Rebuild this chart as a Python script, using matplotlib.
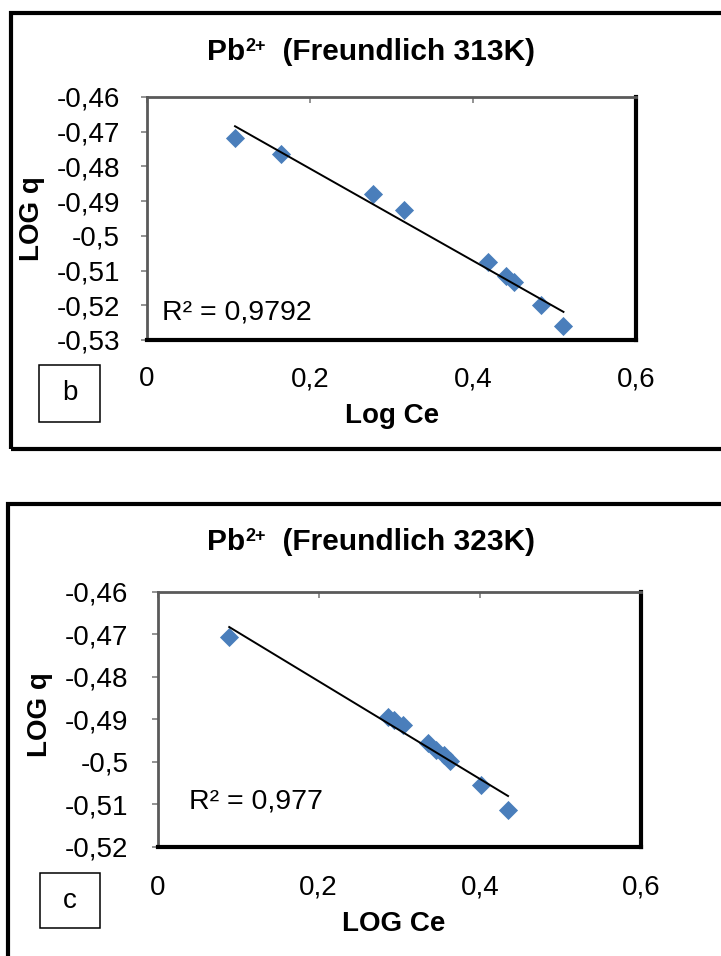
import numpy as np
import matplotlib
matplotlib.use('Agg')
import matplotlib.pyplot as plt
from matplotlib.patches import Rectangle
from matplotlib.ticker import FuncFormatter

plt.rcParams['font.family'] = ['Liberation Sans', 'DejaVu Sans']

# ---------------- data ----------------
# panel b : Pb2+ Freundlich 313K
x_313 = [0.108, 0.165, 0.277, 0.315, 0.418, 0.440, 0.450, 0.484, 0.511]
y_313 = [-0.4719, -0.4764, -0.4880, -0.4926, -0.5075, -0.5116, -0.5134, -0.5199, -0.5259]
# panel c : Pb2+ Freundlich 323K
x_323 = [0.089, 0.286, 0.293, 0.305, 0.336, 0.346, 0.355, 0.363, 0.402, 0.435]
y_323 = [-0.4706, -0.4893, -0.4902, -0.4914, -0.4956, -0.4972, -0.4983, -0.4997, -0.5054, -0.5113]

xticks = [0, 0.2, 0.4, 0.6]
yticks_313 = [-0.46, -0.47, -0.48, -0.49, -0.50, -0.51, -0.52, -0.53]
yticks_323 = [-0.46, -0.47, -0.48, -0.49, -0.50, -0.51, -0.52]

title_base = 'Pb'
title_sup = '2+'
title_rest = ['  (Freundlich 313K)', '  (Freundlich 323K)']
xlabels = ['Log Ce', 'LOG Ce']
ylabel = 'LOG q'
r2_texts = ['R² = 0,9792', 'R² = 0,977']
panel_letters = ['b', 'c']

W, H = 721, 956
fig = plt.figure(figsize=(W / 100, H / 100), dpi=100)
renderer = fig.canvas.get_renderer()


def fx(px):
    return px / W


def fy(py):
    return 1 - py / H


def rect(l, t, r, b):
    return [l / W, 1 - b / H, (r - l) / W, (b - t) / H]


fmt = FuncFormatter(lambda v, p: f'{round(v, 2):g}'.replace('.', ','))
blue = '#4A7EBB'

panels = [
    dict(x=x_313, y=y_313, yt=yticks_313, ylim=(-0.53, -0.46),
         axrect=rect(147, 97, 636, 340), frame=(11, 12.5, 449),
         title_y=60, xl=(392, 416), yl=(32, 219), r2=(162, 312),
         box=(39, 365, 100, 422), ypad=15, xpad=19),
    dict(x=x_323, y=y_323, yt=yticks_323, ylim=(-0.52, -0.46),
         axrect=rect(157.5, 592, 641, 847), frame=(8, 504, 980),
         title_y=550, xl=(394, 924), yl=(40, 715), r2=(189, 801),
         box=(40, 873, 100, 928), ypad=16.5, xpad=20),
]


def draw_title(cx, by, rest):
    # baseline y in pixel coords; pieces laid out left to right, then centred
    fs = 21.5
    t1 = fig.text(0, fy(by), title_base, ha='left', va='baseline', fontsize=fs,
                  fontweight='bold')
    t2 = fig.text(0, fy(by - 9), title_sup, ha='left', va='baseline', fontsize=13,
                  fontweight='bold')
    t3 = fig.text(0, fy(by), rest, ha='left', va='baseline', fontsize=fs,
                  fontweight='bold')
    w1 = t1.get_window_extent(renderer).width
    w2 = t2.get_window_extent(renderer).width
    w3 = t3.get_window_extent(renderer).width
    total = w1 + 1 + w2 + w3
    x0 = cx - total / 2
    t1.set_x(fx(x0))
    t2.set_x(fx(x0 + w1 + 1))
    t3.set_x(fx(x0 + w1 + 1 + w2))


for i, p in enumerate(panels):
    # outer frame
    fl, ft, fb = p['frame']
    fig.patches.append(Rectangle((fx(fl), fy(fb)), 1.05 - fx(fl), fy(ft) - fy(fb),
                                 transform=fig.transFigure, fill=False,
                                 edgecolor='black', linewidth=3.0, clip_on=False))

    ax = fig.add_axes(p['axrect'])
    ax.scatter(p['x'], p['y'], marker='D', s=95, color=blue, linewidths=0, zorder=3)
    xa = np.array(p['x'])
    ya = np.array(p['y'])
    m, c = np.polyfit(xa, ya, 1)
    xx = np.array([xa.min(), xa.max()])
    ax.plot(xx, m * xx + c, color='black', lw=1.4, zorder=4)

    ax.set_xlim(0, 0.6)
    ax.set_ylim(*p['ylim'])
    ax.set_xticks(xticks)
    ax.set_yticks(p['yt'])
    ax.xaxis.set_major_formatter(fmt)
    ax.yaxis.set_major_formatter(fmt)
    ax.tick_params(axis='x', top=True, bottom=False, labeltop=False, labelbottom=True,
                   direction='in', length=4.5, width=1.2, color='#808080',
                   labelsize=20, pad=p['xpad'])
    ax.tick_params(axis='y', left=True, direction='out', length=4.5, width=1.2,
                   color='#808080', labelsize=20, pad=p['ypad'])
    for s in ['left', 'top']:
        ax.spines[s].set_color('#5a5a5a')
        ax.spines[s].set_linewidth(2.0)
    for s in ['right', 'bottom']:
        ax.spines[s].set_color('black')
        ax.spines[s].set_linewidth(3.0)

    draw_title(371, p['title_y'], title_rest[i])
    fig.text(fx(p['xl'][0]), fy(p['xl'][1]), xlabels[i], ha='center', va='center',
             fontsize=20, fontweight='bold')
    fig.text(fx(p['yl'][0]), fy(p['yl'][1]), ylabel, ha='center', va='center',
             rotation=90, fontsize=20, fontweight='bold')
    fig.text(fx(p['r2'][0]), fy(p['r2'][1]), r2_texts[i], ha='left', va='center',
             fontsize=20.5)
    bl, bt, br, bb = p['box']
    fig.patches.append(Rectangle((fx(bl), fy(bb)), fx(br) - fx(bl), fy(bt) - fy(bb),
                                 transform=fig.transFigure, fill=False,
                                 edgecolor='black', linewidth=1.1))
    fig.text(fx((bl + br) / 2), fy((bt + bb) / 2), panel_letters[i], ha='center',
             va='center', fontsize=20)

fig.savefig('out.png', dpi=100, facecolor='white')
